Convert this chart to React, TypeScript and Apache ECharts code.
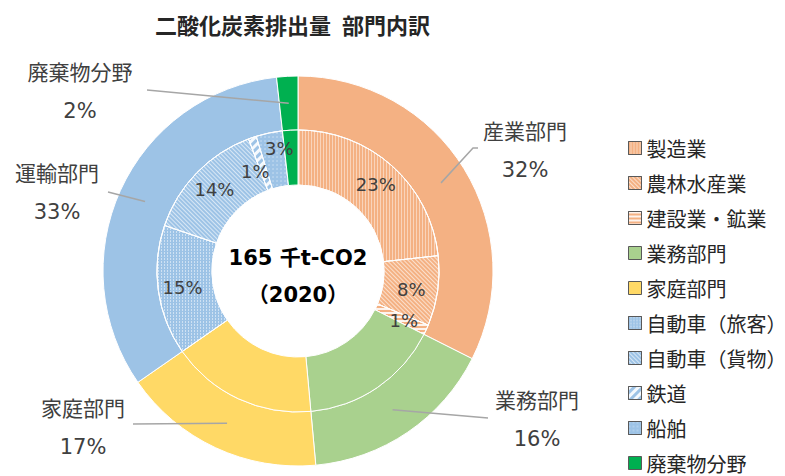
import React, { useEffect, useRef } from 'react';
import * as echarts from 'echarts';

const titleText = '二酸化炭素排出量\u2002部門内訳';
const centerLines = ['165 千t-CO2', '（2020）'];

const sectorNames = ['産業部門', '業務部門', '家庭部門', '運輸部門', '廃棄物分野'];
const sectorValues = [53.5, 26.6, 27.7, 54.3, 2.9];

const subNames = ['製造業', '農林水産業', '建設業・鉱業', '業務部門', '家庭部門', '自動車（旅客）', '自動車（貨物）', '鉄道', '船舶', '廃棄物分野'];
const subValues = [38.4, 13.2, 1.9, 26.6, 27.7, 24.6, 23.2, 1.5, 5.0, 2.9];
const subLabeled = [true, true, true, false, false, true, true, true, true, false];

const ORANGE = '#F4B183';
const GREEN = '#A9D18E';
const YELLOW = '#FFD966';
const BLUE = '#9DC3E6';
const DKGREEN = '#00B050';

const sectorColors = [ORANGE, GREEN, YELLOW, BLUE, DKGREEN];
const subColors = [ORANGE, ORANGE, ORANGE, GREEN, YELLOW, BLUE, BLUE, BLUE, BLUE, DKGREEN];

const subDecals: any[] = [
  { symbol: 'rect', symbolSize: 1, dashArrayX: [1, 0], dashArrayY: [1, 2], rotation: Math.PI / 2, color: 'rgba(255,255,255,0.45)' },
  { symbol: 'rect', symbolSize: 1, dashArrayX: [1, 0], dashArrayY: [1, 1.5], rotation: Math.PI / 4, color: 'rgba(255,255,255,0.6)' },
  { symbol: 'rect', symbolSize: 1, dashArrayX: [1, 0], dashArrayY: [2, 2], rotation: 0, color: 'rgba(255,255,255,0.85)' },
  null,
  null,
  { symbol: 'rect', symbolSize: 1, dashArrayX: [2, 1], dashArrayY: [1, 1.5], rotation: Math.PI / 2, color: 'rgba(255,255,255,0.5)' },
  { symbol: 'rect', symbolSize: 1, dashArrayX: [1, 0], dashArrayY: [1, 1.5], rotation: Math.PI / 4, color: 'rgba(255,255,255,0.6)' },
  { symbol: 'rect', symbolSize: 1, dashArrayX: [1, 0], dashArrayY: [2.5, 2.5], rotation: -Math.PI / 4, color: 'rgba(255,255,255,0.9)' },
  { symbol: 'circle', symbolSize: 0.6, dashArrayX: [2, 2], dashArrayY: [2, 2], rotation: 0, color: 'rgba(255,255,255,0.6)' },
  null,
];

// layout / styling
const CX = 298;
const CY = 271;
const R_IN = 86;
const R_MID = 141;
const R_OUT = 195;
const sectorLabelAt = [[525, 151], [537, 420], [83, 428], [57, 193], [80, 92]];
const sectorLineEnd = [
  [[473, 148], [478, 148]],
  [[488, 418], [488, 418]],
  [[133, 424], [133, 424]],
  [[108, 192], [108, 192]],
  [[147, 90], [147, 90]],
];
const subLabelShift = [[0, 0], [-2, 2], [0, 1], [0, 0], [0, 0], [0, 0], [0, 0], [-5, 11], [5, -8], [0, 0]];

const FONT = "'DejaVu Sans', 'Noto Sans CJK JP', sans-serif";
const JFONT = "'Noto Sans CJK JP', sans-serif";

export default function App() {
  const ref = useRef<HTMLDivElement>(null);
  useEffect(() => {
    if (!ref.current) return;
    const chart = echarts.init(ref.current, undefined, { renderer: 'svg' });
    const total = sectorValues.reduce((a, b) => a + b, 0);
    const cum: number[] = [];
    let acc = 0;
    sectorValues.forEach((v) => {
      cum.push(acc + v / 2);
      acc += v;
    });
    const rLabel = (R_MID + R_OUT) / 2;
    const startPt = (i: number) => {
      const th = (cum[i] / total) * Math.PI * 2;
      return [CX + rLabel * Math.sin(th), CY - rLabel * Math.cos(th)];
    };

    const option: any = {
      animation: false,
      backgroundColor: '#ffffff',
      title: {
        text: titleText,
        left: 155,
        top: 13,
        padding: 0,
        textStyle: { fontFamily: JFONT, fontSize: 22, fontWeight: 'bold', color: '#262626' },
      },
      legend: {
        orient: 'vertical',
        left: 628,
        top: 138,
        height: 420,
        padding: 0,
        itemWidth: 13,
        itemHeight: 13,
        itemGap: 15,
        icon: 'rect',
        data: subNames,
        itemStyle: { borderColor: '#595959', borderWidth: 1 },
        textStyle: { fontFamily: JFONT, fontSize: 20, lineHeight: 20, color: '#262626' },
        selectedMode: false,
      },
      graphic: [
        {
          type: 'text',
          x: CX,
          y: 258,
          style: { text: centerLines[0], font: `bold 21px ${FONT}`, fill: '#000', align: 'center', verticalAlign: 'middle' },
        },
        {
          type: 'text',
          x: CX,
          y: 295,
          style: { text: centerLines[1], font: `bold 21px ${FONT}`, fill: '#000', align: 'center', verticalAlign: 'middle' },
        },
      ],
      series: [
        {
          type: 'pie',
          name: 'outer',
          center: [CX, CY],
          radius: [R_MID, R_OUT],
          percentPrecision: 0,
          silent: true,
          emphasis: { disabled: true },
          itemStyle: { borderColor: '#ffffff', borderWidth: 1 },
          label: { show: false },
          labelLine: { show: false },
          data: sectorNames.map((n, i) => ({ name: n, value: sectorValues[i], itemStyle: { color: sectorColors[i] } })),
        },
        {
          type: 'pie',
          name: 'inner',
          center: [CX, CY],
          radius: [R_IN, R_MID],
          percentPrecision: 0,
          silent: true,
          avoidLabelOverlap: false,
          emphasis: { disabled: true },
          itemStyle: { borderColor: '#ffffff', borderWidth: 1 },
          label: {
            show: true,
            position: 'inside',
            formatter: '{d}%',
            fontFamily: FONT,
            fontSize: 18,
            color: '#404040',
          },
          labelLine: { show: false },
          labelLayout: (p: any) => ({ dx: subLabelShift[p.dataIndex][0], dy: subLabelShift[p.dataIndex][1] }),
          data: subNames.map((n, i) => ({
            name: n,
            value: subValues[i],
            itemStyle: subDecals[i] ? { color: subColors[i], decal: subDecals[i] } : { color: subColors[i] },
            label: { show: subLabeled[i] },
          })),
        },
        {
          // label layer for the outer ring (transparent sectors, drawn on top so leader lines show over the ring)
          type: 'pie',
          name: 'outerLabels',
          z: 5,
          center: [CX, CY],
          radius: [R_MID, R_OUT],
          percentPrecision: 0,
          silent: true,
          avoidLabelOverlap: false,
          emphasis: { disabled: true },
          itemStyle: { color: 'rgba(0,0,0,0)', borderWidth: 0 },
          label: {
            show: true,
            position: 'outside',
            formatter: '{b}\n{d}%',
            fontFamily: FONT,
            fontSize: 21,
            lineHeight: 38,
            color: '#404040',
            align: 'center',
          },
          labelLine: { show: true, lineStyle: { color: '#A6A6A6', width: 1.5 } },
          labelLayout: (p: any) => {
            const i = p.dataIndex;
            const s = startPt(i);
            return {
              x: sectorLabelAt[i][0],
              y: sectorLabelAt[i][1],
              align: 'center',
              verticalAlign: 'middle',
              labelLinePoints: [s, sectorLineEnd[i][0], sectorLineEnd[i][1]],
            };
          },
          data: sectorNames.map((n, i) => ({ name: n, value: sectorValues[i] })),
        },
      ],
    };
    chart.setOption(option);
    return () => chart.dispose();
  }, []);
  return <div ref={ref} style={{ position: 'absolute', left: 0, top: 0, width: 785, height: 476 }} />;
}
